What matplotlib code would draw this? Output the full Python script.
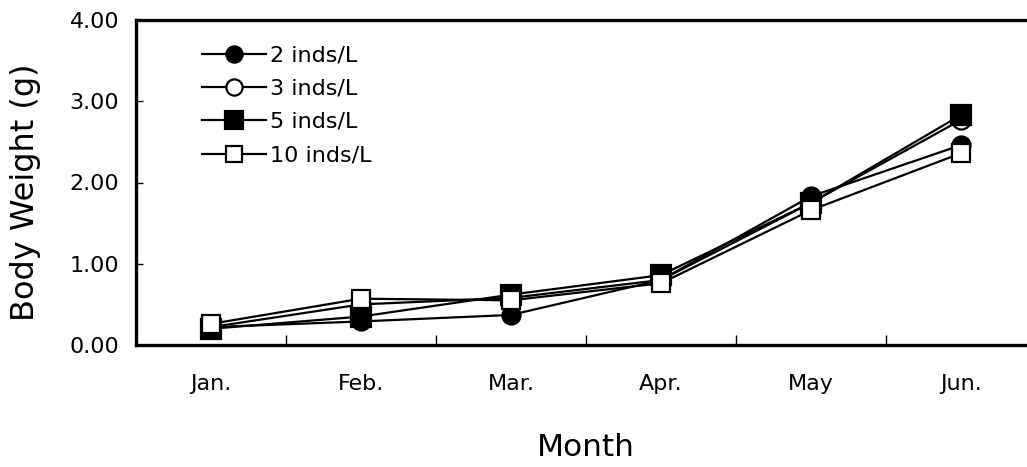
import matplotlib
matplotlib.use("Agg")
import matplotlib.pyplot as plt
from matplotlib.ticker import FixedLocator, NullFormatter

plt.rcParams['font.family'] = ['DejaVu Sans']

months = ["Jan.", "Feb.", "Mar.", "Apr.", "May", "Jun."]
labels = ["2 inds/L", "3 inds/L", "5 inds/L", "10 inds/L"]
d2 = [0.22, 0.29, 0.37, 0.80, 1.83, 2.46]
d3 = [0.22, 0.50, 0.58, 0.80, 1.75, 2.77]
d5 = [0.20, 0.35, 0.62, 0.86, 1.75, 2.83]
d10 = [0.26, 0.57, 0.55, 0.76, 1.66, 2.36]
yticks = [0.0, 1.0, 2.0, 3.0, 4.0]

fig = plt.figure(figsize=(10.27, 4.67), dpi=100)
ax = fig.add_axes([136/1027, 1-345/467, 900/1027, 325/467])

x = list(range(len(months)))
styles = [
    (d2, 'o', 'black', 13),
    (d3, 'o', 'white', 13),
    (d5, 's', 'black', 14),
    (d10, 's', 'white', 13),
]
for (vals, m, fc, ms), lab in zip(styles, labels):
    ax.plot(x, vals, color='black', lw=1.6, marker=m, markersize=ms,
            markerfacecolor=fc, markeredgecolor='black', markeredgewidth=1.6,
            label=lab)

ax.set_xlim(-0.5, 5.5)
ax.set_ylim(0, 4)
ax.set_yticks(yticks)
ax.set_yticklabels([f"{v:.2f}" for v in yticks], fontsize=16)
ax.tick_params(axis='y', direction='in', length=5, width=1, pad=12)

ax.xaxis.set_major_locator(FixedLocator([i + 0.5 for i in range(5)]))
ax.xaxis.set_major_formatter(NullFormatter())
ax.xaxis.set_minor_locator(FixedLocator(x))
ax.set_xticklabels(months, minor=True, fontsize=16)
ax.tick_params(axis='x', which='major', direction='in', length=7, width=1)
ax.tick_params(axis='x', which='minor', length=0, pad=21)

for s in ax.spines.values():
    s.set_linewidth(2.4)

ax.set_ylabel("Body Weight (g)", fontsize=23)
ax.yaxis.set_label_coords(-0.106, 0.47)
ax.set_xlabel("Month", fontsize=22.5)
ax.xaxis.set_label_coords(0.5, -0.27)

leg = ax.legend(loc='upper left', bbox_to_anchor=(0.056, 0.97), frameon=False,
                fontsize=16, handlelength=2.9, labelspacing=0.6,
                handletextpad=0.15, borderaxespad=0.3, markerscale=0.9)

fig.savefig("out.png", dpi=100)
